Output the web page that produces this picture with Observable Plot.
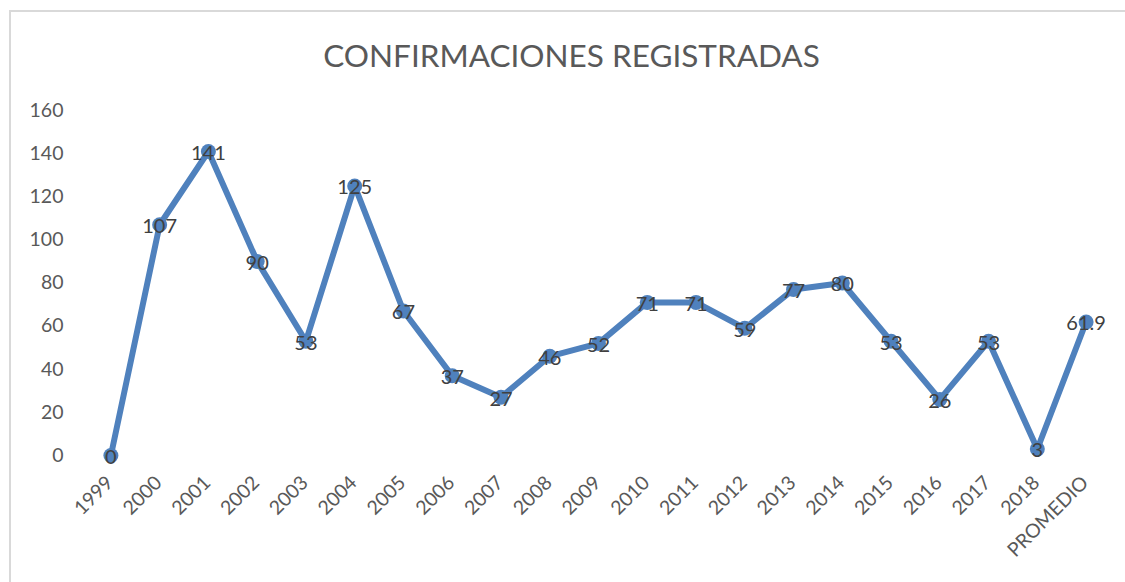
<!DOCTYPE html>
<html><head><meta charset="utf-8">
<script src="https://cdn.jsdelivr.net/npm/d3@7"></script>
<script src="https://cdn.jsdelivr.net/npm/@observablehq/plot@0.6"></script>
<style>
body{margin:0;background:#fff;font-family:Lato,sans-serif;width:1125px;height:582px;overflow:hidden;position:relative}
#frame{position:absolute;left:9px;top:10px;width:1130px;height:600px;border:2px solid #d9d9d9;pointer-events:none;z-index:2}
#title{height:90px;line-height:110px;text-align:center;font-size:31.5px;color:#595959;padding-left:18px;box-sizing:border-box}
</style></head>
<body>
<div id="frame"></div>
<div id="title">CONFIRMACIONES REGISTRADAS</div>
<div id="chart"></div>
<script>
const categories = ["1999","2000","2001","2002","2003","2004","2005","2006","2007","2008","2009","2010","2011","2012","2013","2014","2015","2016","2017","2018","PROMEDIO"];
const values = [0,107,141,90,53,125,67,37,27,46,52,71,71,59,77,80,53,26,53,3,61.9];
const yTicks = [0,20,40,60,80,100,120,140,160];

const data = categories.map((c,i)=>({cat:c, value:values[i]}));
const chart = Plot.plot({
  width:1125, height:492,
  marginLeft:86, marginRight:15, marginTop:20, marginBottom:127,
  x:{type:"point", domain:categories, range:[110.4, 1085.6], padding:0, round:false, label:null},
  y:{domain:[0,160], label:null},
  style:{fontFamily:"Lato, sans-serif", fontSize:"19.5px", color:"#595959", background:"#fff"},
  marks:[
    Plot.gridY(yTicks, {stroke:"#d9d9d9", strokeOpacity:1, strokeWidth:1.3, x1:86, x2:1110}),
    Plot.axisY(yTicks, {tickSize:0, tickPadding:23, label:null}),
    Plot.axisX({tickRotate:-45, tickSize:0, tickPadding:6, dy:18, dx:-1, label:null}),
    Plot.line(data, {x:"cat", y:"value", stroke:"#4f81bd", strokeWidth:6, strokeLinejoin:"round"}),
    Plot.dot(data, {x:"cat", y:"value", r:7.5, fill:"#4f81bd", stroke:"none"}),
    Plot.text(data, {x:"cat", y:"value", text:d=>String(d.value), fill:"#404040", fontSize:20, dy:2})
  ]
});
document.getElementById("chart").appendChild(chart);
</script>
</body></html>
